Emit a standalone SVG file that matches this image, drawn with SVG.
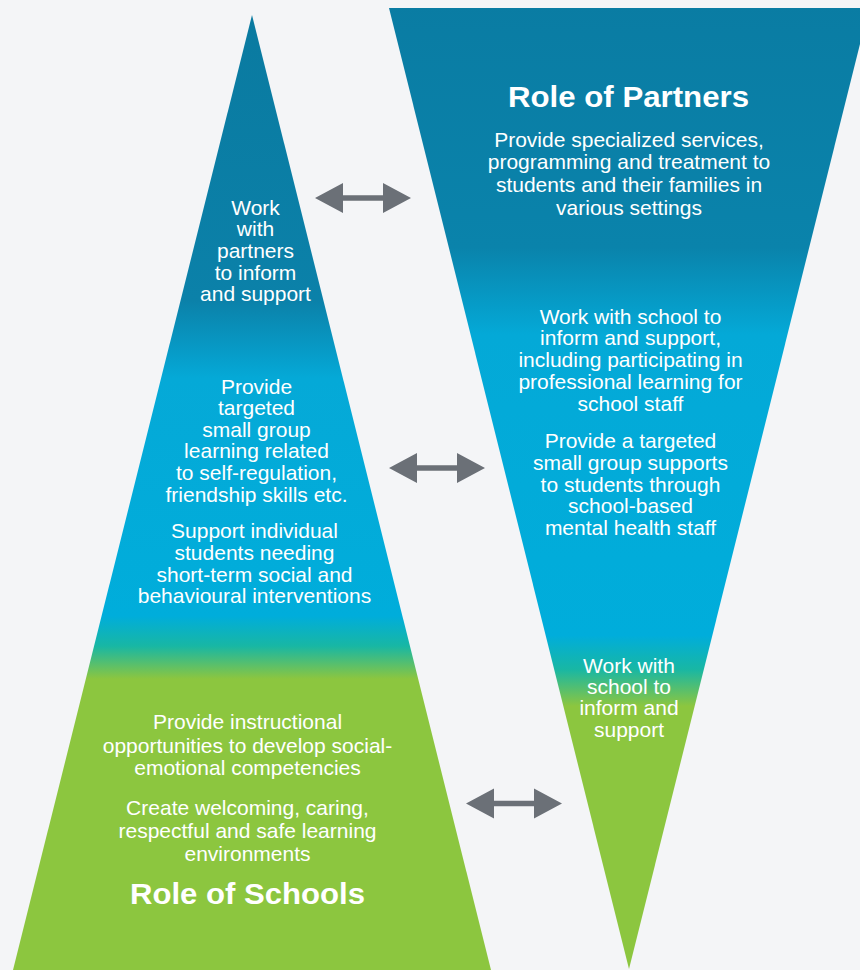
<svg xmlns="http://www.w3.org/2000/svg" width="860" height="970" viewBox="0 0 860 970">
  <defs>
    <linearGradient id="gradSchools" gradientUnits="userSpaceOnUse" x1="0" y1="0" x2="0" y2="970">
      <stop offset="0" stop-color="#0a7aa0"/>
      <stop offset="0.31" stop-color="#0b81a9"/>
      <stop offset="0.39" stop-color="#05a9d7"/>
      <stop offset="0.635" stop-color="#00addb"/>
      <stop offset="0.666" stop-color="#18b7a4"/>
      <stop offset="0.70" stop-color="#8cc63f"/>
      <stop offset="1" stop-color="#8cc63f"/>
    </linearGradient>
    <linearGradient id="gradPartners" gradientUnits="userSpaceOnUse" x1="0" y1="0" x2="0" y2="970">
      <stop offset="0" stop-color="#0a7ca3"/>
      <stop offset="0.255" stop-color="#0a83ab"/>
      <stop offset="0.345" stop-color="#04a9d7"/>
      <stop offset="0.655" stop-color="#00addb"/>
      <stop offset="0.69" stop-color="#18b7a4"/>
      <stop offset="0.728" stop-color="#8cc63f"/>
      <stop offset="1" stop-color="#8cc63f"/>
    </linearGradient>
    <path id="dblArrow" d="M0,0 L28,-15 L28,-2.7 L68,-2.7 L68,-15 L96,0 L68,15 L68,2.7 L28,2.7 L28,15 Z"/>
  </defs>
  <style>
    .body { font-family: "Liberation Sans", Arial, "DejaVu Sans", sans-serif; font-size: 21px; fill: #ffffff; text-anchor: middle; }
    .title { font-family: "Liberation Sans", Arial, "DejaVu Sans", sans-serif; font-size: 30px; font-weight: bold; fill: #ffffff; text-anchor: middle; }
    .arrow { fill: #6b7077; }
  </style>

  <rect x="0" y="0" width="860" height="970" fill="#f4f5f7"/>

  <g id="partners">
    <polygon points="389,8 869,8 629,969" fill="url(#gradPartners)"/>
    <text class="title" x="628.5" y="107.3" textLength="241" lengthAdjust="spacingAndGlyphs">Role of Partners</text>
    <g id="partners-services">
      <text class="body" x="629" y="146.7">Provide specialized services,</text>
      <text class="body" x="629" y="169.3">programming and treatment to</text>
      <text class="body" x="629" y="192">students and their families in</text>
      <text class="body" x="629" y="214.8">various settings</text>
    </g>
    <g id="partners-inform">
      <text class="body" x="630.5" y="324">Work with school to</text>
      <text class="body" x="630.5" y="345.3">inform and support,</text>
      <text class="body" x="630.5" y="367">including participating in</text>
      <text class="body" x="630.5" y="389.3">professional learning for</text>
      <text class="body" x="630.5" y="410.7">school staff</text>
    </g>
    <g id="partners-targeted">
      <text class="body" x="630.5" y="448.3">Provide a targeted</text>
      <text class="body" x="630.5" y="470">small group supports</text>
      <text class="body" x="630.5" y="491.7">to students through</text>
      <text class="body" x="630.5" y="513.3">school-based</text>
      <text class="body" x="630.5" y="534.5">mental health staff</text>
    </g>
    <g id="partners-universal">
      <text class="body" x="629" y="672.7">Work with</text>
      <text class="body" x="629" y="694">school to</text>
      <text class="body" x="629" y="715.3">inform and</text>
      <text class="body" x="629" y="736.7">support</text>
    </g>
  </g>

  <g id="schools">
    <polygon points="252,15 491,970 13,970" fill="url(#gradSchools)"/>
    <g id="schools-partners">
      <text class="body" x="255.5" y="215">Work</text>
      <text class="body" x="255.5" y="236">with</text>
      <text class="body" x="255.5" y="258.3">partners</text>
      <text class="body" x="255.5" y="280">to inform</text>
      <text class="body" x="255.5" y="301.3">and support</text>
    </g>
    <g id="schools-targeted">
      <text class="body" x="256.5" y="394">Provide</text>
      <text class="body" x="256.5" y="415.3">targeted</text>
      <text class="body" x="256.5" y="436.7">small group</text>
      <text class="body" x="256.5" y="457.8">learning related</text>
      <text class="body" x="256.5" y="480">to self-regulation,</text>
      <text class="body" x="256.5" y="501.7">friendship skills etc.</text>
    </g>
    <g id="schools-individual">
      <text class="body" x="254.5" y="538.3">Support individual</text>
      <text class="body" x="254.5" y="560">students needing</text>
      <text class="body" x="254.5" y="581.7">short-term social and</text>
      <text class="body" x="254.5" y="602.9">behavioural interventions</text>
    </g>
    <g id="schools-instructional">
      <text class="body" x="247.5" y="729.3">Provide instructional</text>
      <text class="body" x="247.5" y="752.7">opportunities to develop social-</text>
      <text class="body" x="247.5" y="775">emotional competencies</text>
    </g>
    <g id="schools-environments">
      <text class="body" x="247.5" y="815">Create welcoming, caring,</text>
      <text class="body" x="247.5" y="838.3">respectful and safe learning</text>
      <text class="body" x="247.5" y="860.7">environments</text>
    </g>
    <text class="title" x="247.5" y="904" textLength="235" lengthAdjust="spacingAndGlyphs">Role of Schools</text>
  </g>

  <g id="connectors">
    <use href="#dblArrow" class="arrow" transform="translate(315,198)"/>
    <use href="#dblArrow" class="arrow" transform="translate(389,468)"/>
    <use href="#dblArrow" class="arrow" transform="translate(466,803.5)"/>
  </g>
</svg>
